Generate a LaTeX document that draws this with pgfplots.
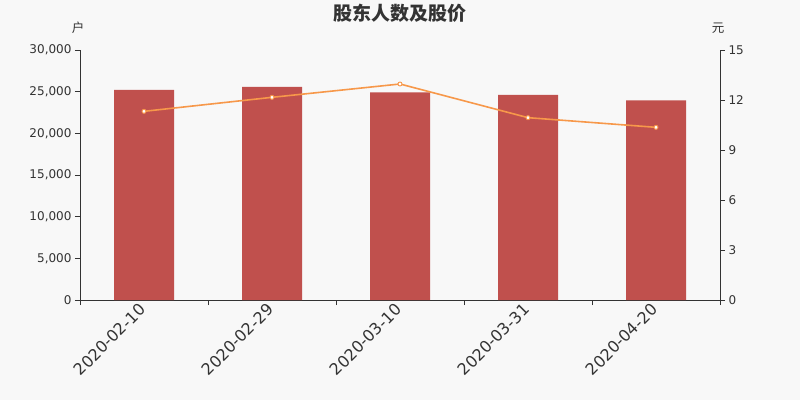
\documentclass[border=0pt]{standalone}
\usepackage{pgfplots}
\pgfplotsset{compat=1.18}
\usepackage{fontspec}
\setmainfont{DejaVu Sans}
\newfontfamily\cjk{Noto Sans CJK SC}
\definecolor{bg}{HTML}{F8F8F8}
\definecolor{barred}{HTML}{C0504D}
\definecolor{lineorange}{HTML}{F7984A}
\definecolor{txt}{HTML}{333333}

\begin{document}
\begin{tikzpicture}[x=1bp,y=1bp]
\fill[bg] (0,0) rectangle (800,400);

\pgfplotsset{
  base/.style={
    at={(80bp,100bp)}, anchor=south west,
    scale only axis, width=640bp, height=250bp,
    xmin=-0.5, xmax=4.5, ymin=0,
    tick align=outside,
    major tick length=5bp,
    every tick/.style={draw=txt, line width=0.8bp},
    x axis line style={-, draw=txt, line width=0.8bp},
    y axis line style={-, draw=txt, line width=0.8bp},
    tick label style={text=txt, font=\fontsize{12bp}{14bp}\selectfont},
    /pgf/number format/assume math mode=true,
  },
}

\begin{axis}[base,
  ymax=30000,
  axis y line*=left, axis x line*=bottom,
  ytick={0,5000,...,30000},
  scaled y ticks=false,
  yticklabel style={/pgf/number format/.cd, 1000 sep={,}},
  xtick={0,1,2,3,4},
  xticklabels={2020-02-10,2020-02-29,2020-03-10,2020-03-31,2020-04-20},
  xticklabel style={rotate=45, anchor=east, font=\fontsize{16bp}{18bp}\selectfont, inner sep=2bp},
  major x tick style={draw=none},
  extra x ticks={-0.5,0.5,1.5,2.5,3.5,4.5},
  extra x tick labels={},
  extra x tick style={major x tick style={draw=txt, line width=0.8bp}},
]
\addplot[ybar, bar width=60bp, fill=barred, draw=none] coordinates {
  (0,25200) (1,25560) (2,24920) (3,24600) (4,23960)
};
\end{axis}

\begin{axis}[base,
  ymax=15,
  axis y line*=right, axis x line=none,
  ytick={0,3,...,15},
]
\addplot[lineorange, line width=1.6bp, mark=*, mark size=2bp,
  mark options={fill=white, draw=lineorange, line width=0.9bp}] coordinates {
  (0,11.32) (1,12.16) (2,12.96) (3,10.94) (4,10.36)
};
\end{axis}

\node[text=txt, font=\cjk\fontsize{12.5bp}{14bp}\selectfont] at (78,372) {户};
\node[text=txt, font=\cjk\fontsize{12.5bp}{14bp}\selectfont] at (718,372) {元};
\node[text=txt, font=\cjk\bfseries\fontsize{19bp}{21bp}\selectfont] at (400,387) {股东人数及股价};

\pgfresetboundingbox
\path (0,0) rectangle (800,400);
\end{tikzpicture}
\end{document}
